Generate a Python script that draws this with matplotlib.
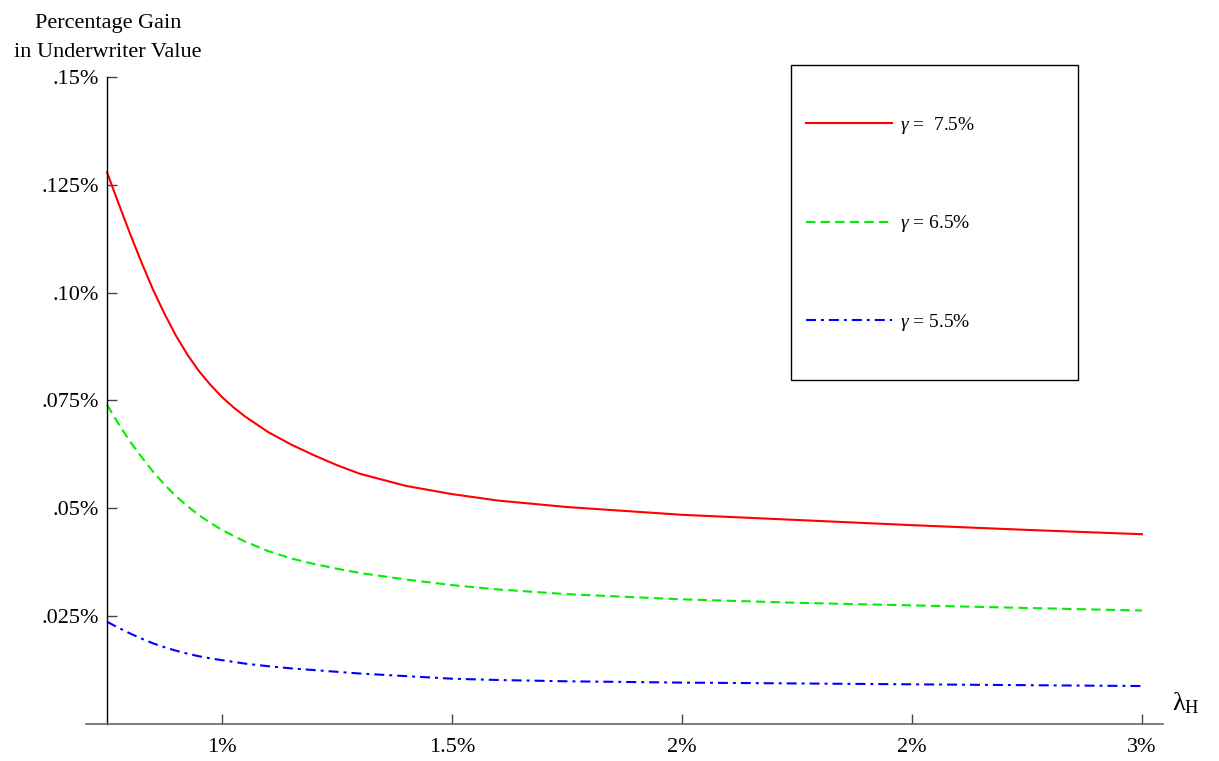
import matplotlib
matplotlib.use('Agg')
import matplotlib.pyplot as plt
from matplotlib.patches import Rectangle

plt.rcParams['font.family'] = ['Liberation Serif', 'DejaVu Serif']
plt.rcParams['mathtext.fontset'] = 'custom'
plt.rcParams['mathtext.rm'] = 'Liberation Serif'
plt.rcParams['mathtext.it'] = 'Liberation Serif:italic'

# hazard rate lambda_H (%) and percentage gain in underwriter value (%)
lam = [0.75, 0.775, 0.80, 0.825, 0.85, 0.875, 0.90, 0.925, 0.95, 0.975,
       1.00, 1.025, 1.05, 1.10, 1.15, 1.20, 1.25, 1.30, 1.40, 1.50,
       1.60, 1.75, 2.00, 2.25, 2.50, 2.75, 3.00]
gain_75 = [0.1279, 0.1207, 0.1137, 0.1070, 0.1007, 0.0951, 0.0900, 0.0856,
           0.0818, 0.0786, 0.0758, 0.0734, 0.0713, 0.0677, 0.0648, 0.0623,
           0.0600, 0.0580, 0.0552, 0.0533, 0.0518, 0.0503, 0.0485, 0.0473,
           0.0461, 0.0450, 0.0440]
gain_65 = [0.0740, 0.0696, 0.0655, 0.0619, 0.0585, 0.0555, 0.0528, 0.0505,
           0.0484, 0.0466, 0.0450, 0.0436, 0.0423, 0.0401, 0.0384, 0.0371,
           0.0360, 0.0350, 0.0335, 0.0322, 0.0312, 0.0301, 0.0289, 0.0281,
           0.0275, 0.0269, 0.0263]
gain_55 = [0.0237, 0.0223, 0.0210, 0.0198, 0.0187, 0.0178, 0.0170, 0.0163,
           0.0157, 0.0152, 0.0148, 0.0144, 0.0140, 0.0134, 0.0129, 0.0125,
           0.0121, 0.0117, 0.0111, 0.0105, 0.0102, 0.0099, 0.0096, 0.0094,
           0.0092, 0.0090, 0.0088]
labels = [r'$\it{\gamma}$ =  7.5%', r'$\it{\gamma}$ = 6.5%', r'$\it{\gamma}$ = 5.5%']

x_ticks = [1.0, 1.5, 2.0, 2.5, 3.0]
x_ticklabels = ['1%', '1.5%', '2%', '2%', '3%']
y_ticks = [0.025, 0.05, 0.075, 0.10, 0.125, 0.15]
y_ticklabels = ['.025%', '.05%', '.075%', '.10%', '.125%', '.15%']

W, H = 1219, 761
fig = plt.figure(figsize=(W / 100, H / 100), dpi=100)
ax = fig.add_axes([86 / W, (H - 724) / H, (1163 - 86) / W, (724 - 77) / H])
ax.set_xlim(0.7043, 3.0457)
ax.set_ylim(0, 0.15)

ax.plot(lam, gain_75, color='#ff0000', lw=1.5, label=labels[0])
ax.plot(lam, gain_65, color='#00ee00', lw=1.5, dashes=(4.5, 2.5), label=labels[1])
ax.plot(lam, gain_55, color='#0000ff', lw=1.5, dashes=(4.8, 2.4, 1.4, 2.4),
        label=labels[2])

# axes crossing at (0.75%, 0)
ax.spines['top'].set_visible(False)
ax.spines['right'].set_visible(False)
ax.spines['left'].set_position(('data', 0.75))
ax.spines['bottom'].set_position(('data', 0))
ax.spines['left'].set_color('black')
ax.spines['bottom'].set_color('#666666')
ax.spines['left'].set_linewidth(1.0)
ax.spines['bottom'].set_linewidth(1.2)

ax.set_xticks(x_ticks)
ax.set_xticklabels(x_ticklabels)
ax.set_yticks(y_ticks)
ax.set_yticklabels(y_ticklabels)
ax.tick_params(direction='in', length=7.5, width=1, color='#444444',
               labelsize=16, pad=6)
ax.tick_params(axis='x', pad=10)

fig.text(1186 / W, (H - 703) / H, r'$\mathregular{\lambda_H}$',
         fontsize=19, ha='center', va='center')
fig.text(108 / W, (H - 38) / H, 'Percentage Gain\nin Underwriter Value',
         fontsize=16, ha='center', va='center', linespacing=1.69)

# legend box
fig.patches.append(Rectangle((791 / W, (H - 380) / H), 287 / W, 315 / H,
                             transform=fig.transFigure, fill=False,
                             edgecolor='black', lw=1.0))
ax.legend(loc='center left', bbox_to_anchor=(806 / W, (H - 224) / H),
          bbox_transform=fig.transFigure, frameon=False,
          fontsize=14, handlelength=4.4, handletextpad=0.45,
          borderpad=0, borderaxespad=0, labelspacing=4.0)

fig.savefig('out.png', dpi=100)
